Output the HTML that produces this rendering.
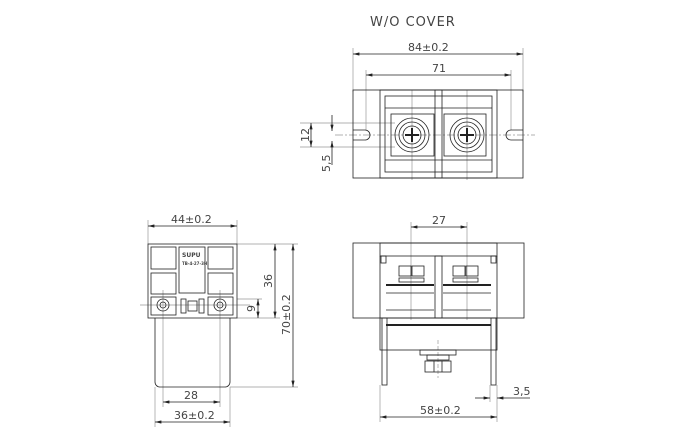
<!DOCTYPE html>
<html><head><meta charset="utf-8"><style>
html,body{margin:0;padding:0;background:#fff;}
svg{display:block}
text{font-family:"DejaVu Sans","Liberation Sans",sans-serif;fill:#444;font-size:11px}
</style></head><body>
<svg width="680" height="440" viewBox="0 0 680 440" xmlns="http://www.w3.org/2000/svg">
<defs>
<marker id="a" viewBox="0 0 8 4" refX="8" refY="2" markerWidth="8" markerHeight="4" orient="auto-start-reverse"><path d="M0,0L8,2L0,4z" fill="#222"/></marker>
</defs>
<text x="370" y="26" style="font-size:13px;letter-spacing:1px">W/O COVER</text>
<g stroke="#999" stroke-width="0.7" fill="none">
<!-- top view extension lines -->
<line x1="353" y1="48" x2="353" y2="92"/><line x1="523" y1="48" x2="523" y2="92"/>
<line x1="366" y1="70" x2="366" y2="130"/><line x1="511" y1="70" x2="511" y2="130"/>
<line x1="300" y1="123" x2="395" y2="123"/><line x1="300" y1="147" x2="395" y2="147"/>
<line x1="335" y1="135" x2="535" y2="135" stroke-dasharray="8,2,2,2"/>
<line x1="412" y1="90" x2="412" y2="180"/><line x1="467" y1="90" x2="467" y2="180"/>
</g>
<g stroke="#222" stroke-width="0.8" fill="none">
<line x1="353" y1="54" x2="523" y2="54" marker-start="url(#a)" marker-end="url(#a)"/>
<line x1="366" y1="75" x2="511" y2="75" marker-start="url(#a)" marker-end="url(#a)"/>
<line x1="311" y1="123" x2="311" y2="147" marker-start="url(#a)" marker-end="url(#a)"/>
<line x1="332" y1="115" x2="332" y2="131" marker-end="url(#a)"/>
<line x1="332" y1="165" x2="332" y2="141" marker-end="url(#a)"/>
<!-- top view body -->
<rect x="353" y="90" width="170" height="88"/>
<rect x="380" y="90" width="117" height="88"/>
<rect x="385" y="96" width="107" height="76"/>
<line x1="385" y1="108" x2="492" y2="108"/><line x1="385" y1="160" x2="492" y2="160"/>
<rect x="435" y="90" width="7" height="88"/>
<rect x="391" y="114" width="43" height="42"/>
<rect x="444" y="114" width="42" height="42"/>
<circle cx="412" cy="135" r="17"/><circle cx="412" cy="135" r="13"/><circle cx="412" cy="135" r="9"/>
<circle cx="467" cy="135" r="17"/><circle cx="467" cy="135" r="13"/><circle cx="467" cy="135" r="9"/>
<path d="M405 135h14M412 128v14M460 135h14M467 128v14" stroke-width="2"/>
<path d="M353 130h12a5 5 0 0 1 0 10h-12"/>
<path d="M523 130h-12a5 5 0 0 0 0 10h12"/>
</g>
<text x="408" y="51">84±0.2</text>
<text x="432" y="72">71</text>
<text transform="translate(309,142) rotate(-90)">12</text>
<text transform="translate(330,172) rotate(-90)">5,5</text>

<!-- side view -->
<g stroke="#999" stroke-width="0.7" fill="none">
<line x1="148" y1="220" x2="148" y2="244"/><line x1="237" y1="220" x2="237" y2="244"/>
<line x1="237" y1="244" x2="298" y2="244"/><line x1="237" y1="318" x2="280" y2="318"/>
<line x1="230" y1="387" x2="298" y2="387"/>
<line x1="237" y1="299" x2="262" y2="299"/>
<line x1="140" y1="305" x2="250" y2="305"/>
<line x1="163" y1="290" x2="163" y2="407"/><line x1="220" y1="290" x2="220" y2="407"/>
<line x1="155" y1="387" x2="155" y2="427"/><line x1="230" y1="387" x2="230" y2="427"/>
</g>
<g stroke="#222" stroke-width="0.8" fill="none">
<line x1="148" y1="226" x2="237" y2="226" marker-start="url(#a)" marker-end="url(#a)"/>
<line x1="275" y1="244" x2="275" y2="318" marker-start="url(#a)" marker-end="url(#a)"/>
<line x1="293" y1="244" x2="293" y2="387" marker-start="url(#a)" marker-end="url(#a)"/>
<line x1="258" y1="299" x2="258" y2="318" marker-start="url(#a)" marker-end="url(#a)"/>
<line x1="163" y1="402" x2="220" y2="402" marker-start="url(#a)" marker-end="url(#a)"/>
<line x1="155" y1="422" x2="230" y2="422" marker-start="url(#a)" marker-end="url(#a)"/>
<rect x="148" y="244" width="89" height="74"/>
<rect x="151" y="247" width="25" height="22"/><rect x="208" y="247" width="25" height="22"/>
<rect x="151" y="273" width="25" height="21"/><rect x="208" y="273" width="25" height="21"/>
<rect x="179" y="247" width="26" height="46"/>
<rect x="151" y="297" width="25" height="18"/><rect x="208" y="297" width="25" height="18"/>
<rect x="181" y="299" width="5" height="14"/><rect x="199" y="299" width="5" height="14"/>
<rect x="188" y="301" width="9" height="10"/>
<circle cx="163" cy="305" r="6"/><circle cx="220" cy="305" r="6"/>
<circle cx="163" cy="305" r="3"/><circle cx="220" cy="305" r="3"/>
<path d="M155 318v64a5 5 0 0 0 5 5h65a5 5 0 0 0 5-5v-64"/>
</g>
<text x="182" y="257" style="font-size:6px;font-weight:bold">SUPU</text>
<text x="182" y="265" style="font-size:4px;font-weight:bold">TB-4-27-3H</text>
<text x="171" y="223">44±0.2</text>
<text transform="translate(272,288) rotate(-90)">36</text>
<text transform="translate(290,335) rotate(-90)">70±0.2</text>
<text transform="translate(255,312) rotate(-90)">9</text>
<text x="184" y="399">28</text>
<text x="174" y="419">36±0.2</text>

<!-- front view -->
<g stroke="#999" stroke-width="0.7" fill="none">
<line x1="411" y1="222" x2="411" y2="320"/><line x1="467" y1="222" x2="467" y2="320"/>
<line x1="380" y1="385" x2="380" y2="422"/><line x1="497" y1="385" x2="497" y2="422"/>
<line x1="490" y1="385" x2="490" y2="402"/>
<line x1="438" y1="340" x2="438" y2="378" stroke-dasharray="4,2"/>
</g>
<g stroke="#222" stroke-width="0.8" fill="none">
<line x1="411" y1="227" x2="467" y2="227" marker-start="url(#a)" marker-end="url(#a)"/>
<line x1="380" y1="417" x2="497" y2="417" marker-start="url(#a)" marker-end="url(#a)"/>
<line x1="475" y1="398" x2="490" y2="398" marker-end="url(#a)"/>
<line x1="530" y1="398" x2="497" y2="398" marker-end="url(#a)"/>
<rect x="353" y="243" width="171" height="75"/>
<rect x="380" y="243" width="117" height="13"/>
<line x1="380" y1="256" x2="380" y2="318"/><line x1="497" y1="256" x2="497" y2="318"/>
<rect x="381" y="256" width="5" height="7"/><rect x="491" y="256" width="5" height="7"/>
<rect x="435" y="256" width="7" height="62"/>
<rect x="399" y="266" width="12" height="10"/><rect x="412" y="266" width="12" height="10"/>
<rect x="453" y="266" width="12" height="10"/><rect x="466" y="266" width="12" height="10"/>
<rect x="399" y="278" width="25" height="4"/><rect x="453" y="278" width="25" height="4"/>
<line x1="386" y1="285" x2="434" y2="285" stroke-width="2"/><line x1="443" y1="285" x2="491" y2="285" stroke-width="2"/>
<line x1="386" y1="293" x2="434" y2="293"/><line x1="443" y1="293" x2="491" y2="293"/>
<line x1="386" y1="310" x2="434" y2="310"/><line x1="443" y1="310" x2="491" y2="310"/>
<rect x="380" y="318" width="117" height="32"/>
<line x1="386" y1="325" x2="491" y2="325" stroke-width="2"/>
<rect x="382" y="318" width="5" height="67"/><rect x="491" y="318" width="5" height="67"/>
<rect x="420" y="350" width="36" height="5"/>
<rect x="427" y="355" width="22" height="5"/>
<rect x="425" y="361" width="26" height="11"/>
<line x1="434" y1="361" x2="434" y2="372"/><line x1="442" y1="361" x2="442" y2="372"/>
</g>
<text x="432" y="224">27</text>
<text x="420" y="414">58±0.2</text>
<text x="513" y="395">3,5</text>
</svg>
</body></html>
